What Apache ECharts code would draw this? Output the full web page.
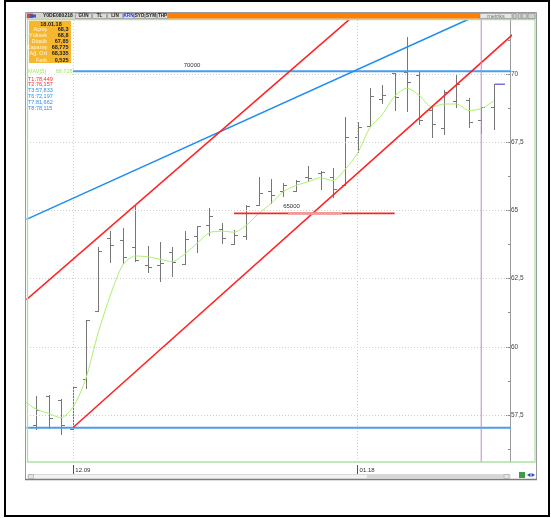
<!DOCTYPE html>
<html><head><meta charset="utf-8">
<script src="https://cdn.jsdelivr.net/npm/echarts@6/dist/echarts.min.js"></script>
<style>html,body{margin:0;padding:0;background:#fff}#c{width:551px;height:518px}</style>
</head><body><div id="c"></div>
<script>
// ---------- data ----------
const barIndex = [0,1,2,3,4,5,6,7,8,9,10,11,12,13,14,15,16,17,18,19,20,21,22,23,24,25,26,27,28,29,30,31,32,33,34,35,36,37];
const opens  = [57.14,58.20,58.05,57.00,58.82,61.31,63.98,63.91,63.67,63.00,63.00,63.49,63.03,64.06,64.45,64.30,63.76,64.06,65.20,65.72,65.72,65.72,66.22,66.36,66.24,65.93,67.68,68.10,69.07,70.03,70.06,69.98,68.68,68.01,69.00,69.05,68.30,68.80];
const highs  = [58.21,58.22,58.09,58.54,60.98,63.67,64.26,64.37,65.16,63.70,63.85,63.67,64.23,64.43,65.08,64.55,64.28,65.20,66.24,66.15,66.02,66.11,66.64,66.44,66.57,68.42,68.23,69.48,69.60,70.03,71.37,70.10,68.83,69.41,70.00,69.11,68.80,69.62];
const lows   = [56.98,57.01,56.79,57.00,58.50,61.31,63.10,63.06,63.14,62.73,62.40,62.60,63.03,63.46,64.10,63.79,63.76,63.95,65.20,65.28,65.54,65.71,66.09,65.78,65.50,65.93,67.13,68.10,68.93,68.68,68.64,68.18,67.70,67.80,68.80,68.07,67.85,67.97];
const closes = [57.69,57.38,57.13,58.54,60.98,63.50,63.73,63.30,63.18,62.94,63.07,63.12,63.94,64.43,64.79,63.98,64.10,65.16,65.65,65.56,65.92,66.08,66.18,66.40,65.77,67.68,68.05,69.19,69.22,69.17,69.70,68.30,68.17,69.34,69.62,68.25,68.775,69.62];
const maIndex  = [-1,0,1,2,3,4,5,6,7,8,9,10,11,12,13,14,15,16,17,18,19,20,21,22,23,24,25,26,27,28,29,30,31,32,33,34,35,36,37];
const maValues = [58.03,57.71,57.56,57.40,57.80,58.82,60.50,61.90,63.00,63.33,63.30,63.21,63.12,63.40,63.79,64.18,64.24,64.20,64.46,64.89,65.26,65.69,65.91,66.05,66.20,66.09,66.51,67.10,68.04,68.52,69.19,69.48,69.21,68.79,68.90,68.90,68.66,68.728,69.01];

const yTicks      = [57.5,60,62.5,65,67.5,70];
const yMinorTicks = [56.25,58.75,61.25,63.75,66.25,68.75,71.25];
const dateTicks   = [3,26];
const dateLabels  = ['12.09','01.18'];

// drawn tools (index, value)
const upperRed    = [[-0.8,61.73],[27.5,72.85]];
const lowerRed    = [[3,57.05],[39,71.63]];
const blueDiag    = [[-0.8,64.67],[36.5,72.32]];
const blueTop     = [[2.97,70.1],[38.5,70.1]];
const blueBottom  = [[-0.8,57.03],[38.5,57.03]];
const redLevel    = [[16,64.89],[29,64.89]];
const redLevelHi  = [[20.36,64.89],[24.73,64.89]];
const lastPrice   = [[37.1,69.62],[37.92,69.62]];
const cursorLine  = [[36,55.5],[36,72.3]];

const infoDate   = '18.01.18';
const infoLabels = ['Açılış','Yüksek','Düşük','Kapanış','Ağ. Ort','Fark'];
const infoValues = ['68,3','68,8','67,85','68,775','68,335','0,525'];
const maName = 'MAV(5)', maText = '68,728';
const toolLabels = ['T1:78,449','T2:76,157','T3:57,833','T6:72,197','T7:81,662','T8:78,115'];
const toolColors = ['#ff2a2a','#ff2a2a','#2f8fe6','#2f8fe6','#2f8fe6','#2f8fe6'];
const symbolName = 'Y0DE080218';
const tabs = ['GÜN','TL','LİN','KRN','SYD','SYM','THP'];

// ---------- chart ----------
const FONT = '"Liberation Sans", Arial, sans-serif';
const chart = echarts.init(document.getElementById('c'), null, {renderer:'canvas', width:551, height:518});
const ohlc = barIndex.map((d,i)=>[d, opens[i], highs[i], lows[i], closes[i]]);
const ma = maIndex.map((d,i)=>[d, maValues[i]]);

function renderOHLC(params, api){
  const i = api.value(0);
  const px = Math.round(api.coord([i, 0])[0]) + 0.5;
  const yy = v => Math.round(api.coord([i, v])[1]) + 0.5;
  const o = yy(api.value(1)), h = yy(api.value(2)), l = yy(api.value(3)), c = yy(api.value(4));
  const st = {stroke:'#767676', lineWidth:1};
  return {type:'group', children:[
    {type:'line', shape:{x1:px, y1:h-0.5, x2:px, y2:l+0.5}, style:st},
    {type:'line', shape:{x1:px-3.5, y1:o, x2:px, y2:o}, style:st},
    {type:'line', shape:{x1:px, y1:c, x2:px+3.5, y2:c}, style:st}
  ]};
}

function seg(name, data, color, width, z, extra){
  return Object.assign({type:'line', name, data, symbol:'none', silent:true, clip:true, z:z||5,
    lineStyle:{color, width}, animation:false}, extra||{});
}

const gridStyle = {color:'#cfcfcf', width:1, type:[1,2]};
const markLines = yTicks.map(v=>({yAxis:v, lineStyle:gridStyle}))
  .concat(dateTicks.map(v=>({xAxis:v, lineStyle:gridStyle})));

const option = {
  animation:false,
  backgroundColor:'#ffffff',
  grid:{left:27, right:41, top:20, bottom:56},
  xAxis:{type:'value', min:-0.752, max:38.33, offset:3,
    axisLine:{show:false, onZero:false},
    axisTick:{show:true, customValues:dateTicks, length:9, lineStyle:{color:'#555'}},
    axisLabel:{show:true, customValues:dateTicks, formatter:v=>dateLabels[dateTicks.indexOf(v)],
      align:'left', margin:2, padding:[0,0,0,2], fontSize:6, color:'#333', fontFamily:FONT},
    splitLine:{show:false}},
  yAxis:[
    {type:'value', position:'right', min:55.777, max:71.979,
      axisLine:{show:true, onZero:false, lineStyle:{color:'#9a9a9a', width:1}},
      axisTick:{show:true, inside:true, customValues:yTicks, length:4, lineStyle:{color:'#8a8a8a'}},
      axisLabel:{show:true, customValues:yTicks, formatter:v=>String(v).replace('.',','),
        margin:1, fontSize:6.5, color:'#444', fontFamily:FONT},
      splitLine:{show:false}},
    {type:'value', position:'right', min:55.777, max:71.979,
      axisLine:{show:false, onZero:false},
      axisTick:{show:true, inside:true, customValues:yMinorTicks, length:2, lineStyle:{color:'#8a8a8a'}},
      axisLabel:{show:false}, splitLine:{show:false}}
  ],
  series:[
    seg('grid', [], '#cfcfcf', 1, 1, {
      markLine:{silent:true, symbol:'none', label:{show:false}, animation:false, data:markLines}}),
    {type:'custom', name:'ohlc', data:ohlc, renderItem:renderOHLC, clip:true, z:3, silent:true,
      encode:{x:0, y:[1,2,3,4]}},
    seg('ma', ma, '#a9ef6e', 1, 4, {smooth:0.25}),
    seg('blueBottom', blueBottom, '#4d9ce8', 2, 6),
    seg('blueTop', blueTop, '#4d9ce8', 2, 6, {markPoint:{symbol:'circle', symbolSize:0, silent:true,
      data:[{coord:[12.6,70.1], label:{show:true, formatter:'70000', position:'top', distance:3,
        fontSize:6, color:'#333', fontFamily:FONT}}]}}),
    seg('blueDiag', blueDiag, '#1f8ef0', 1.6, 6),
    seg('upperRed', upperRed, '#ff2424', 1.6, 7),
    seg('lowerRed', lowerRed, '#ff2424', 1.6, 7),
    seg('redLevel', redLevel, '#ff2424', 1.6, 7, {markPoint:{symbol:'circle', symbolSize:0, silent:true,
      data:[{coord:[20.65,64.89], label:{show:true, formatter:'65000', position:'top', distance:4,
        fontSize:6, color:'#333', fontFamily:FONT}}]}}),
    seg('redLevelHi', redLevelHi, '#f39a9a', 2.5, 7),
    seg('cursor', cursorLine, '#b98bcc', 1, 8),
    seg('lastPrice', lastPrice, '#7474d4', 1.5, 8)
  ],
  graphic:[]
};

// ---------- window chrome (static decoration) ----------
const G = [];
const txt = (x,y,text,font,fill,align)=>({type:'text', z:100, silent:true,
  style:{x, y, text, font, fill, align:align||'left', verticalAlign:'middle'}});
G.push({type:'rect', z:100, silent:true, shape:{x:5, y:1, width:544, height:515}, style:{fill:null, stroke:'#000', lineWidth:2}});
G.push({type:'rect', z:99, silent:true, shape:{x:25.5, y:12.5, width:511, height:467}, style:{fill:null, stroke:'#9a9a9a', lineWidth:1}});
G.push({type:'line', z:99, silent:true, shape:{x1:25, y1:479.5, x2:537, y2:479.5}, style:{stroke:'#7c7c7c', lineWidth:1.5}});
G.push({type:'rect', z:99, silent:true, shape:{x:27.5, y:19.5, width:507.5, height:442.5}, style:{fill:null, stroke:'#aee0a6', lineWidth:1.3}});
G.push({type:'rect', z:98, silent:true, shape:{x:26, y:13, width:510, height:6}, style:{fill:'#d6d3cc'}});
G.push({type:'rect', z:99, silent:true, shape:{x:27, y:13.5, width:6, height:4.5}, style:{fill:'#d84040'}});
G.push({type:'rect', z:99, silent:true, shape:{x:30, y:14.5, width:6, height:3}, style:{fill:'#4050c8'}});
G.push(txt(43, 16, symbolName, 'bold 5px '+FONT, '#222'));
const tabEdges = [75,92,107,123,134,145,157,168];
tabs.forEach((t,i)=>{
  const x0 = tabEdges[i], x1 = tabEdges[i+1];
  G.push({type:'rect', z:99, silent:true, shape:{x:x0+0.5, y:13.5, width:x1-x0-1, height:5}, style:{fill: t==='KRN'?'#e8e8f4':'#dedbd4', stroke:'#8a8a8a', lineWidth:0.6}});
  G.push(txt((x0+x1)/2, 16, t, 'bold 4.6px '+FONT, t==='KRN'?'#1030ff':'#222', 'center'));
});
G.push({type:'rect', z:99, silent:true, shape:{x:168, y:13, width:312, height:5.5}, style:{fill:'#ff8000'}});
G.push({type:'rect', z:99, silent:true, shape:{x:480, y:13.5, width:32, height:5}, style:{fill:'#e6e6e6', stroke:'#888', lineWidth:0.6}});
G.push(txt(496, 16.2, 'metriks', '5.5px '+FONT, '#777', 'center'));
[[513,3],[518,3],[522,5],[528,7]].forEach(([x,w])=>{
  G.push({type:'rect', z:99, silent:true, shape:{x, y:13.5, width:w, height:5}, style:{fill:'#d0d0d0', stroke:'#777', lineWidth:0.5}});
});
G.push({type:'rect', z:100, silent:true, shape:{x:29, y:20.7, width:42, height:42.3}, style:{fill:'#f6b62e'}});
G.push(txt(51, 24.5, infoDate, 'bold 5.5px '+FONT, '#222', 'center'));
infoLabels.forEach((l,i)=>{
  const y = 29.7 + i*6.06;
  G.push(txt(47, y, l, '5.5px '+FONT, '#fff6dc', 'right'));
  G.push(txt(68.5, y, infoValues[i], 'bold 5.5px '+FONT, '#222', 'right'));
});
G.push({type:'rect', z:100, silent:true, shape:{x:28, y:68.5, width:44.5, height:6}, style:{fill:'#fff'}});
G.push(txt(28, 71.7, maName, '5.5px '+FONT, '#9ee85e'));
G.push(txt(72.5, 71.7, maText, '5.5px '+FONT, '#9ee85e', 'right'));
toolLabels.forEach((t,i)=>G.push(txt(28, 79 + i*5.95, t, '5.5px '+FONT, toolColors[i])));
G.push({type:'rect', z:99, silent:true, shape:{x:28, y:474.5, width:482, height:4}, style:{fill:'#f2f2f2', stroke:'#c4c4c4', lineWidth:0.6}});
G.push({type:'rect', z:99, silent:true, shape:{x:367, y:475, width:137, height:3}, style:{fill:'#d6d6d6'}});
G.push({type:'rect', z:99, silent:true, shape:{x:28.5, y:474.5, width:5, height:4}, style:{fill:'#e4e4e4', stroke:'#999', lineWidth:0.5}});
G.push({type:'rect', z:99, silent:true, shape:{x:504, y:474.5, width:5, height:4}, style:{fill:'#e4e4e4', stroke:'#999', lineWidth:0.5}});
G.push({type:'rect', z:99, silent:true, shape:{x:519, y:472, width:6, height:6}, style:{fill:'#3f9c46'}});
G.push({type:'polygon', z:99, silent:true, shape:{points:[[527,475],[530.5,473],[530.5,477]]}, style:{fill:'#2048c0'}});
G.push({type:'polygon', z:99, silent:true, shape:{points:[[535,475],[531.5,473],[531.5,477]]}, style:{fill:'#2048c0'}});

option.graphic = G;
chart.setOption(option);
</script>
</body></html>
